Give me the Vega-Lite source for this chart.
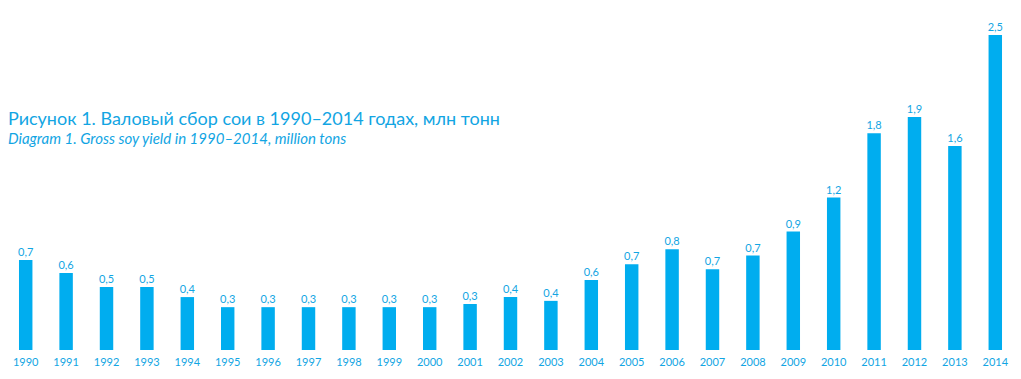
{
  "$schema": "https://vega.github.io/schema/vega-lite/v6.json",
  "autosize": "none",
  "padding": {"left": 0, "top": 0, "right": 0, "bottom": 29},
  "width": 1021,
  "height": 350,
  "background": "white",
  "config": {"view": {"stroke": null}, "font": "Lato"},
  "title": {
    "text": "Рисунок 1. Валовый сбор сои в 1990–2014 годах, млн тонн",
    "subtitle": "Diagram 1. Gross soy yield in 1990–2014, million tons",
    "anchor": "start",
    "frame": "group",
    "orient": "top",
    "offset": -147,
    "dx": 8,
    "font": "Lato",
    "fontSize": 18,
    "fontWeight": "normal",
    "color": "#12a5e3",
    "subtitleFont": "Lato",
    "subtitleFontSize": 15,
    "subtitleFontStyle": "italic",
    "subtitleColor": "#12a5e3",
    "subtitlePadding": 3
  },
  "data": {
    "values": [
      {"year": "1990", "value": 0.714, "label": "0,7"},
      {"year": "1991", "value": 0.611, "label": "0,6"},
      {"year": "1992", "value": 0.5, "label": "0,5"},
      {"year": "1993", "value": 0.5, "label": "0,5"},
      {"year": "1994", "value": 0.42, "label": "0,4"},
      {"year": "1995", "value": 0.34, "label": "0,3"},
      {"year": "1996", "value": 0.34, "label": "0,3"},
      {"year": "1997", "value": 0.34, "label": "0,3"},
      {"year": "1998", "value": 0.34, "label": "0,3"},
      {"year": "1999", "value": 0.34, "label": "0,3"},
      {"year": "2000", "value": 0.34, "label": "0,3"},
      {"year": "2001", "value": 0.365, "label": "0,3"},
      {"year": "2002", "value": 0.42, "label": "0,4"},
      {"year": "2003", "value": 0.39, "label": "0,4"},
      {"year": "2004", "value": 0.556, "label": "0,6"},
      {"year": "2005", "value": 0.68, "label": "0,7"},
      {"year": "2006", "value": 0.8, "label": "0,8"},
      {"year": "2007", "value": 0.64, "label": "0,7"},
      {"year": "2008", "value": 0.75, "label": "0,7"},
      {"year": "2009", "value": 0.94, "label": "0,9"},
      {"year": "2010", "value": 1.21, "label": "1,2"},
      {"year": "2011", "value": 1.72, "label": "1,8"},
      {"year": "2012", "value": 1.85, "label": "1,9"},
      {"year": "2013", "value": 1.62, "label": "1,6"},
      {"year": "2014", "value": 2.5, "label": "2,5"}
    ]
  },
  "encoding": {
    "x": {
      "field": "year",
      "type": "ordinal",
      "scale": {"paddingInner": 0.667, "paddingOuter": 0.47},
      "axis": {
        "title": null,
        "domain": false,
        "ticks": false,
        "labelAngle": 0,
        "labelPadding": 6,
        "labelFontSize": 11,
        "labelColor": "#12a5e3",
        "labelFont": "Lato"
      }
    },
    "y": {
      "field": "value",
      "type": "quantitative",
      "scale": {"domain": [0, 2.778], "nice": false, "zero": true},
      "axis": null
    }
  },
  "layer": [
    {"mark": {"type": "bar", "color": "#00adef"}},
    {
      "mark": {"type": "text", "baseline": "bottom", "dy": -2, "fontSize": 11, "color": "#12a5e3", "font": "Lato"},
      "encoding": {"text": {"field": "label"}}
    }
  ]
}
